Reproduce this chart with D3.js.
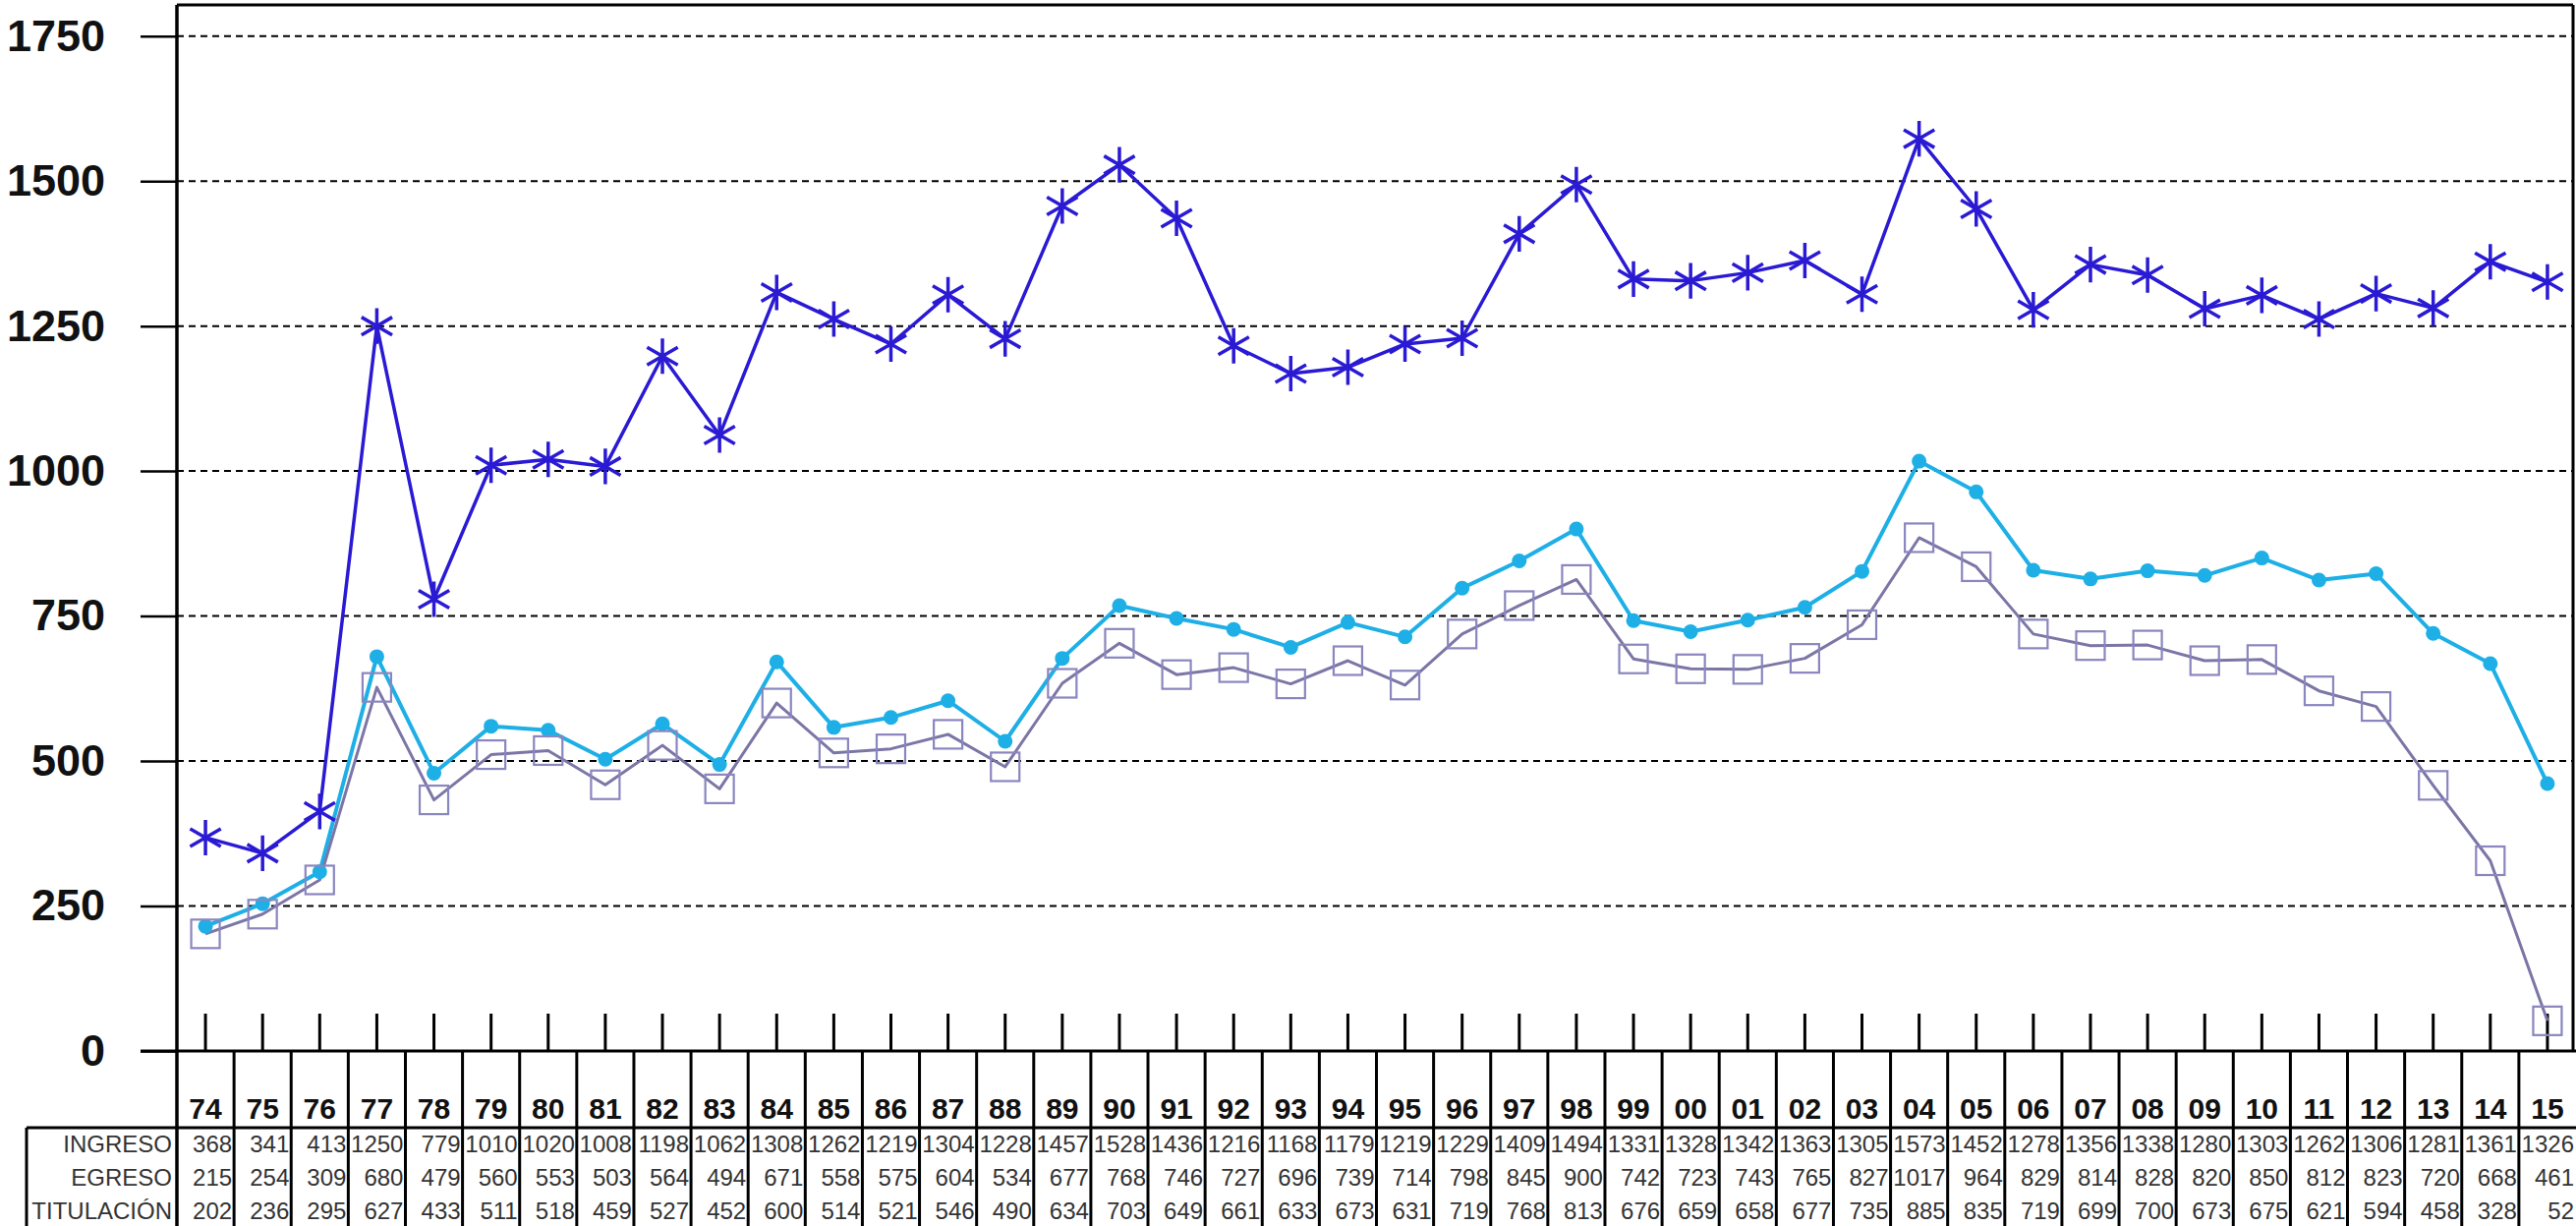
<!DOCTYPE html>
<html>
<head>
<meta charset="utf-8">
<script src="https://cdn.jsdelivr.net/npm/d3@7"></script>
<style>
  body { margin: 0; background: #fff; }
  svg { display: block; font-family: "Liberation Sans", Arial, sans-serif; }
</style>
</head>
<body>
<div id="chart"></div>
<script>
const years = ["74","75","76","77","78","79","80","81","82","83","84","85","86","87","88","89","90","91","92","93","94","95","96","97","98","99","00","01","02","03","04","05","06","07","08","09","10","11","12","13","14","15"];
const ingreso = [368,341,413,1250,779,1010,1020,1008,1198,1062,1308,1262,1219,1304,1228,1457,1528,1436,1216,1168,1179,1219,1229,1409,1494,1331,1328,1342,1363,1305,1573,1452,1278,1356,1338,1280,1303,1262,1306,1281,1361,1326];
const egreso = [215,254,309,680,479,560,553,503,564,494,671,558,575,604,534,677,768,746,727,696,739,714,798,845,900,742,723,743,765,827,1017,964,829,814,828,820,850,812,823,720,668,461];
const titulacion = [202,236,295,627,433,511,518,459,527,452,600,514,521,546,490,634,703,649,661,633,673,631,719,768,813,676,659,658,677,735,885,835,719,699,700,673,675,621,594,458,328,52];
const yTicks = [0,250,500,750,1000,1250,1500,1750];
const rowNames = ["INGRESO","EGRESO","TITULACIÓN"];

const W = 2621, H = 1247;
const plotLeft = 180, plotRight = 2621, plotTop = 5, zeroY = 1069;

const svg = d3.select("#chart").append("svg")
              .attr("width", W)
              .attr("height", H);

const x = d3.scaleBand()
            .domain(years)
            .range([plotLeft, plotRight])
            .padding(0);
const cx = function (d) { return x(d) + x.bandwidth() / 2; };

const y = d3.scaleLinear()
            .domain([0, 1750])
            .range([zeroY, 36.7]);

// dashed gridlines
svg.append("g")
   .selectAll("line")
   .data(yTicks.filter(function (d) { return d > 0; }))
   .enter()
   .append("line")
   .attr("x1", plotLeft)
   .attr("x2", plotRight - 3)
   .attr("y1", function (d) { return y(d); })
   .attr("y2", function (d) { return y(d); })
   .attr("stroke", "#000")
   .attr("stroke-width", 2)
   .attr("stroke-dasharray", "7,5");

// y axis: outside ticks + bold labels
const yAxis = svg.append("g")
                 .attr("transform", "translate(" + plotLeft + ",0)")
                 .call(d3.axisLeft(y)
                         .tickValues(yTicks)
                         .tickFormat(d3.format("d"))
                         .tickSize(37)
                         .tickSizeOuter(0)
                         .tickPadding(36));
yAxis.select(".domain").remove();
yAxis.selectAll(".tick line").attr("stroke", "#000").attr("stroke-width", 2.5);
yAxis.selectAll(".tick text")
     .attr("font-size", 45)
     .attr("font-weight", "bold")
     .attr("fill", "#111")
     .attr("font-family", "Liberation Sans, Arial, sans-serif");

// category ticks pointing up into the plot
const xAxis = svg.append("g")
                 .attr("transform", "translate(0," + zeroY + ")")
                 .call(d3.axisTop(x).tickSize(38).tickSizeOuter(0).tickFormat(""));
xAxis.select(".domain").remove();
xAxis.selectAll(".tick line").attr("stroke", "#000").attr("stroke-width", 3);

// plot frame
svg.append("line").attr("x1", plotLeft).attr("x2", plotLeft).attr("y1", plotTop).attr("y2", H)
   .attr("stroke", "#000").attr("stroke-width", 3.5);
svg.append("line").attr("x1", plotLeft).attr("x2", plotRight - 3).attr("y1", plotTop).attr("y2", plotTop)
   .attr("stroke", "#000").attr("stroke-width", 3);
svg.append("line").attr("x1", plotRight - 3).attr("x2", plotRight - 3).attr("y1", plotTop).attr("y2", zeroY)
   .attr("stroke", "#000").attr("stroke-width", 3);
svg.append("line").attr("x1", 143).attr("x2", plotRight).attr("y1", zeroY).attr("y2", zeroY)
   .attr("stroke", "#000").attr("stroke-width", 3);

// data table
const table = svg.append("g");
const rowLineY = 1147;
table.append("line").attr("x1", 27).attr("x2", plotRight).attr("y1", rowLineY).attr("y2", rowLineY)
     .attr("stroke", "#000").attr("stroke-width", 3);
table.append("line").attr("x1", 27).attr("x2", 27).attr("y1", rowLineY).attr("y2", H)
     .attr("stroke", "#000").attr("stroke-width", 3);
table.selectAll("line.col")
     .data(years.slice(1))
     .enter()
     .append("line")
     .attr("class", "col")
     .attr("x1", function (d) { return x(d); })
     .attr("x2", function (d) { return x(d); })
     .attr("y1", zeroY)
     .attr("y2", H)
     .attr("stroke", "#000")
     .attr("stroke-width", 3);

table.selectAll("text.year")
     .data(years)
     .enter()
     .append("text")
     .attr("class", "year")
     .attr("x", cx)
     .attr("y", 1138)
     .attr("text-anchor", "middle")
     .attr("font-size", 30)
     .attr("font-weight", "bold")
     .attr("fill", "#111")
     .text(function (d) { return d; });

const rows = [ingreso, egreso, titulacion];
const rowBase = [1172, 1206, 1240];
rows.forEach(function (vals, i) {
    table.append("text")
         .attr("x", 175)
         .attr("y", rowBase[i])
         .attr("text-anchor", "end")
         .attr("font-size", 24)
         .attr("fill", "#333")
         .text(rowNames[i]);
    table.selectAll("text.v" + i)
         .data(vals)
         .enter()
         .append("text")
         .attr("class", "v" + i)
         .attr("x", function (d, j) { return x(years[j]) + x.bandwidth() - 2; })
         .attr("y", rowBase[i])
         .attr("text-anchor", "end")
         .attr("font-size", 24)
         .attr("fill", "#333")
         .text(function (d) { return d; });
});

// series
const line = d3.line()
               .x(function (d, i) { return cx(years[i]); })
               .y(function (d) { return y(d); });

const series = [
    {values: ingreso, color: "#2A1AD4", width: 3.5},
    {values: egreso, color: "#1EAFE6", width: 4},
    {values: titulacion, color: "#7C76A6", width: 3}
];
series.forEach(function (s) {
    svg.append("path")
       .datum(s.values)
       .attr("fill", "none")
       .attr("stroke", s.color)
       .attr("stroke-width", s.width)
       .attr("stroke-linejoin", "round")
       .attr("d", line);
});

// markers
svg.append("g")
   .selectAll("path")
   .data(ingreso)
   .enter()
   .append("path")
   .attr("transform", function (d, i) { return "translate(" + cx(years[i]) + "," + y(d) + ")"; })
   .attr("d", d3.symbol(d3.symbolAsterisk, 920))
   .attr("fill", "none")
   .attr("stroke", "#2A1AD4")
   .attr("stroke-width", 3.5);

svg.append("g")
   .selectAll("circle")
   .data(egreso)
   .enter()
   .append("circle")
   .attr("cx", function (d, i) { return cx(years[i]); })
   .attr("cy", function (d) { return y(d); })
   .attr("r", 7.5)
   .attr("fill", "#1EAFE6");

svg.append("g")
   .selectAll("rect")
   .data(titulacion)
   .enter()
   .append("rect")
   .attr("x", function (d, i) { return cx(years[i]) - 14.5; })
   .attr("y", function (d) { return y(d) - 14.5; })
   .attr("width", 29)
   .attr("height", 29)
   .attr("fill", "none")
   .attr("stroke", "#8A86BE")
   .attr("stroke-width", 2.2);
</script>
</body>
</html>
